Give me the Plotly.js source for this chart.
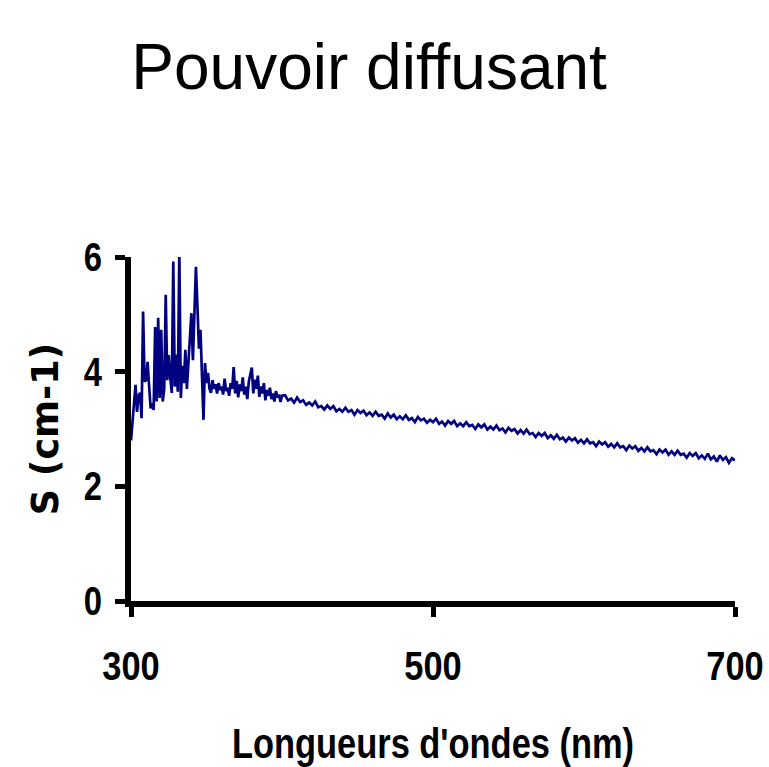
<!DOCTYPE html>
<html>
<head>
<meta charset="utf-8">
<script src="https://cdn.plot.ly/plotly-3.0.1.min.js"></script>
<style>
html,body{margin:0;padding:0;background:#fff;}
#chart{width:769px;height:767px;}
</style>
</head>
<body>
<div id="chart"></div>
<script>
// Wavelengths (nm), 1 nm steps in the noisy UV part
const wavelengthsUV = [300,301,302,303,304,305,306,307,308,309,310,311,312,313,314,315,316,317,318,319,320,321,322,323,324,325,326,327,328,329,330,331,332,333,334,335,336,337,338,339,340,341,342,343,344,345,346,347,348,349,350,351,352,353,354,355,356,357,358,359,360,
361,362,363,364,365,366,367,368,369,370,371,372,373,374,375,376,377,378,379,380,381,382,383,384,385,386,387,388,389,390,391,392,393,394,395,396,397,398,399,400];
const scatteringUV = [2.80,3.10,3.45,3.77,3.30,3.59,3.63,3.19,5.05,3.83,3.85,4.17,3.75,3.36,3.45,3.33,4.78,3.48,4.94,3.54,4.73,3.48,3.70,5.34,3.85,4.29,3.90,3.63,5.92,3.74,4.30,3.65,6.08,3.54,4.10,3.80,4.38,3.70,4.15,4.61,5.02,4.20,4.90,5.83,5.13,4.40,4.73,3.90,3.16,4.15,3.80,3.98,3.70,3.63,3.85,3.70,3.78,3.62,3.80,3.68,3.74,
3.60,3.88,3.66,3.72,3.58,3.80,3.70,4.08,3.62,3.84,3.55,3.78,3.66,3.90,3.60,3.74,3.52,3.82,3.95,4.07,3.62,3.86,3.70,3.93,3.56,3.74,3.62,3.80,3.50,3.68,3.58,3.72,3.52,3.62,3.48,3.66,3.55,3.60,3.47,3.58];

// Wavelengths (nm), 2 nm steps in the visible part
const wavelengthsVis = [402,404,406,408,410,412,414,416,418,420,422,424,426,428,430,432,434,436,438,440,
442,444,446,448,450,452,454,456,458,460,462,464,466,468,470,472,474,476,478,480,
482,484,486,488,490,492,494,496,498,500,502,504,506,508,510,512,514,516,518,520,
522,524,526,528,530,532,534,536,538,540,542,544,546,548,550,552,554,556,558,560,
562,564,566,568,570,572,574,576,578,580,582,584,586,588,590,592,594,596,598,600,
602,604,606,608,610,612,614,616,618,620,622,624,626,628,630,632,634,636,638,640,
642,644,646,648,650,652,654,656,658,660,662,664,666,668,670,672,674,676,678,680,
682,684,686,688,690,692,694,696,698,700];
const scatteringVis = [3.59,3.50,3.53,3.46,3.55,3.47,3.50,3.42,3.46,3.41,3.48,3.38,3.40,3.34,3.41,3.35,3.40,3.31,3.35,3.30,
3.37,3.30,3.33,3.25,3.33,3.28,3.32,3.24,3.29,3.23,3.30,3.23,3.25,3.18,3.27,3.20,3.25,3.17,3.22,3.17,
3.24,3.16,3.19,3.12,3.21,3.15,3.18,3.11,3.16,3.12,3.18,3.09,3.13,3.06,3.14,3.09,3.14,3.05,3.10,3.05,
3.12,3.05,3.07,3.00,3.08,3.03,3.08,2.99,3.04,2.99,3.06,2.98,3.01,2.94,3.02,2.97,3.00,2.92,2.98,2.92,
2.99,2.91,2.93,2.86,2.93,2.88,2.93,2.84,2.89,2.83,2.90,2.82,2.85,2.78,2.85,2.80,2.84,2.76,2.81,2.75,
2.82,2.75,2.77,2.70,2.78,2.73,2.77,2.69,2.74,2.68,2.75,2.68,2.70,2.63,2.71,2.66,2.70,2.62,2.67,2.61,
2.68,2.61,2.63,2.56,2.64,2.59,2.64,2.55,2.61,2.55,2.62,2.55,2.57,2.50,2.58,2.53,2.58,2.49,2.54,2.48,
2.57,2.47,2.52,2.43,2.54,2.46,2.51,2.41,2.49,2.45];

const xTicks = [300,500,700];
const yTicks = [0,2,4,6];

const titleText = "Pouvoir diffusant";
const xTitle = "Longueurs d'ondes (nm)";
const yTitle = "S (cm-1)";

const boldSans = '"Liberation Sans",Arial,sans-serif';

const trace = {
  x: wavelengthsUV.concat(wavelengthsVis),
  y: scatteringUV.concat(scatteringVis),
  type: 'scatter',
  mode: 'lines',
  line: {color: '#000080', width: 2.7},
  hoverinfo: 'none'
};

const layout = {
  width: 769,
  height: 767,
  paper_bgcolor: '#ffffff',
  plot_bgcolor: '#ffffff',
  showlegend: false,
  margin: {l: 131, r: 34, t: 257, b: 166, autoexpand: false},
  title: {
    text: titleText,
    font: {family: boldSans, size: 64, color: '#000'},
    x: 0.48, xanchor: 'center', xref: 'container',
    y: 0.913, yanchor: 'middle', yref: 'container'
  },
  xaxis: {
    range: [300, 700],
    tickvals: xTicks,
    ticktext: xTicks.map(String),
    showline: true, linecolor: '#000', linewidth: 6,
    ticks: 'outside', ticklen: 10, tickwidth: 5, tickcolor: '#000',
    showgrid: false, zeroline: false,
    tickfont: {family: boldSans, size: 40.5, color: '#000', weight: 'bold'},
    ticklabelstandoff: 14,
    ticklabeloverflow: 'allow',
    title: {text: xTitle, font: {family: boldSans, size: 42, color: '#000', weight: 'bold'}, standoff: 48},
    automargin: false,
    fixedrange: true
  },
  yaxis: {
    range: [0, 6],
    tickvals: yTicks,
    ticktext: yTicks.map(String),
    showline: true, linecolor: '#000', linewidth: 6,
    ticks: 'outside', ticklen: 10, tickwidth: 5, tickcolor: '#000',
    showgrid: false, zeroline: false,
    tickfont: {family: boldSans, size: 40, color: '#000', weight: 'bold'},
    ticklabelstandoff: 5,
    ticklabeloverflow: 'allow',
    title: {text: yTitle, font: {family: '"DejaVu Sans",sans-serif', size: 36.5, color: '#000', weight: 'bold'}, standoff: 12},
    automargin: false,
    fixedrange: true
  }
};

// Narrow (condensed) look for the bold axis texts: horizontal scale about each text's anchor x
function condense(gd, ratio, selector) {
  gd.querySelectorAll(selector).forEach(function (t) {
    const ax = parseFloat(t.getAttribute('x')) || 0;
    const tr = t.getAttribute('transform') || '';
    t.setAttribute('transform', tr + ' translate(' + ax + ',0) scale(' + ratio + ',1) translate(' + (-ax) + ',0)');
  });
}

Plotly.newPlot('chart', [trace], layout, {staticPlot: true, displayModeBar: false}).then(function (gd) {
  condense(gd, 0.85, '.xtick text');
  condense(gd, 0.82, '.ytick text, .g-xtitle text');
});
</script>
</body>
</html>
